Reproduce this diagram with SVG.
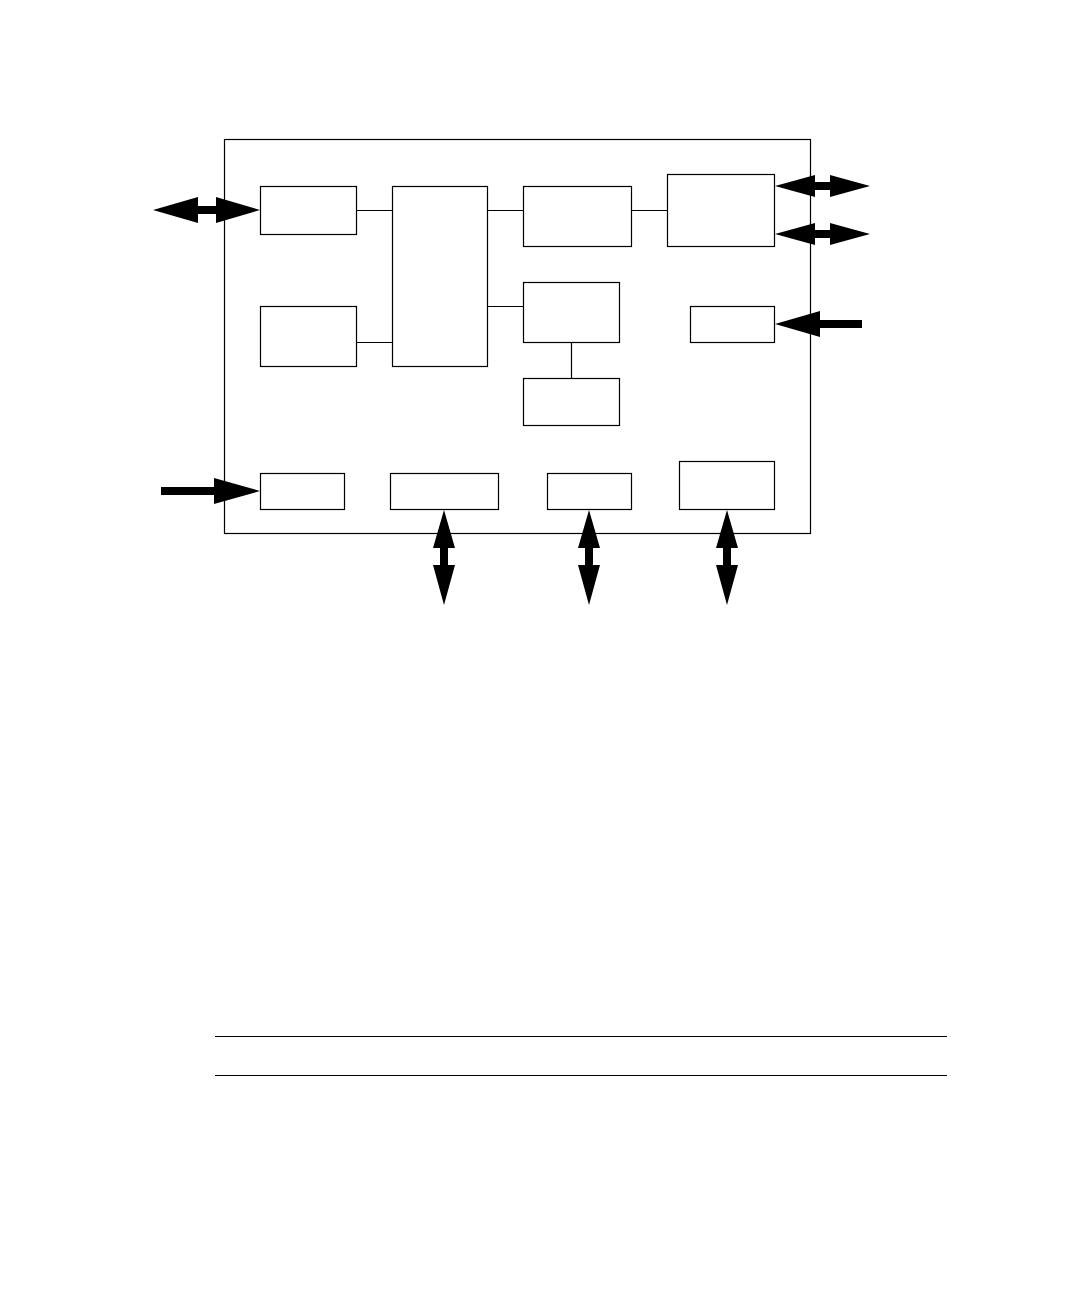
<svg xmlns="http://www.w3.org/2000/svg" width="1080" height="1296" viewBox="0 0 1080 1296">
<style>
.box{fill:#fff;stroke:#000;stroke-width:1.2}
.ln{stroke:#000;stroke-width:1.2;fill:none}
.arr{fill:#000;stroke:none}
</style>
<rect width="1080" height="1296" fill="#fff"/>
<g id="frame"><rect class="box" x="224.5" y="139.5" width="586" height="394"/></g>
<g id="connectors">
<line class="ln" x1="356" y1="210.5" x2="392" y2="210.5"/>
<line class="ln" x1="356" y1="342.5" x2="392" y2="342.5"/>
<line class="ln" x1="487" y1="210.5" x2="523" y2="210.5"/>
<line class="ln" x1="487" y1="306.5" x2="523" y2="306.5"/>
<line class="ln" x1="631" y1="210.5" x2="667" y2="210.5"/>
<line class="ln" x1="571.5" y1="342" x2="571.5" y2="378"/>
<polygon class="arr" points="153,210 198,197 198,206 216,206 216,197 260,210 216,223 216,214 198,214 198,223"/>
<polygon class="arr" points="775,186 815,175 815,182 830,182 830,175 870,186 830,197 830,190 815,190 815,197"/>
<polygon class="arr" points="775,234 815,223 815,230 830,230 830,223 870,234 830,245 830,238 815,238 815,245"/>
<polygon class="arr" points="775,324 820,311 820,320 862,320 862,328 820,328 820,337"/>
<polygon class="arr" points="161,487 214,487 214,478 260,491 214,504 214,495 161,495"/>
<polygon class="arr" points="444,510 455,548 448,548 448,565 455,565 444,605 433,565 440,565 440,548 433,548"/>
<polygon class="arr" points="589,510 600,548 593,548 593,565 600,565 589,605 578,565 585,565 585,548 578,548"/>
<polygon class="arr" points="727,510 738,548 731,548 731,565 738,565 727,605 716,565 723,565 723,548 716,548"/>
</g>
<g id="nodeA"><rect class="box" x="260.5" y="186.5" width="96" height="48"/></g>
<g id="nodeB"><rect class="box" x="260.5" y="306.5" width="96" height="60"/></g>
<g id="nodeC"><rect class="box" x="392.5" y="186.5" width="95" height="180"/></g>
<g id="nodeD"><rect class="box" x="523.5" y="186.5" width="108" height="60"/></g>
<g id="nodeE"><rect class="box" x="523.5" y="282.5" width="96" height="60"/></g>
<g id="nodeF"><rect class="box" x="523.5" y="378.5" width="96" height="47"/></g>
<g id="nodeG"><rect class="box" x="667.5" y="174.5" width="107" height="72"/></g>
<g id="nodeH"><rect class="box" x="690.5" y="306.5" width="84" height="36"/></g>
<g id="nodeI"><rect class="box" x="260.5" y="473.5" width="84" height="36"/></g>
<g id="nodeJ"><rect class="box" x="390.5" y="473.5" width="108" height="36"/></g>
<g id="nodeK"><rect class="box" x="547.5" y="473.5" width="84" height="36"/></g>
<g id="nodeL"><rect class="box" x="679.5" y="461.5" width="95" height="48"/></g>
<g id="rules">
<line class="ln" x1="215" y1="1036.5" x2="947" y2="1036.5"/>
<line class="ln" x1="215" y1="1075.5" x2="947" y2="1075.5"/>
</g>
</svg>
